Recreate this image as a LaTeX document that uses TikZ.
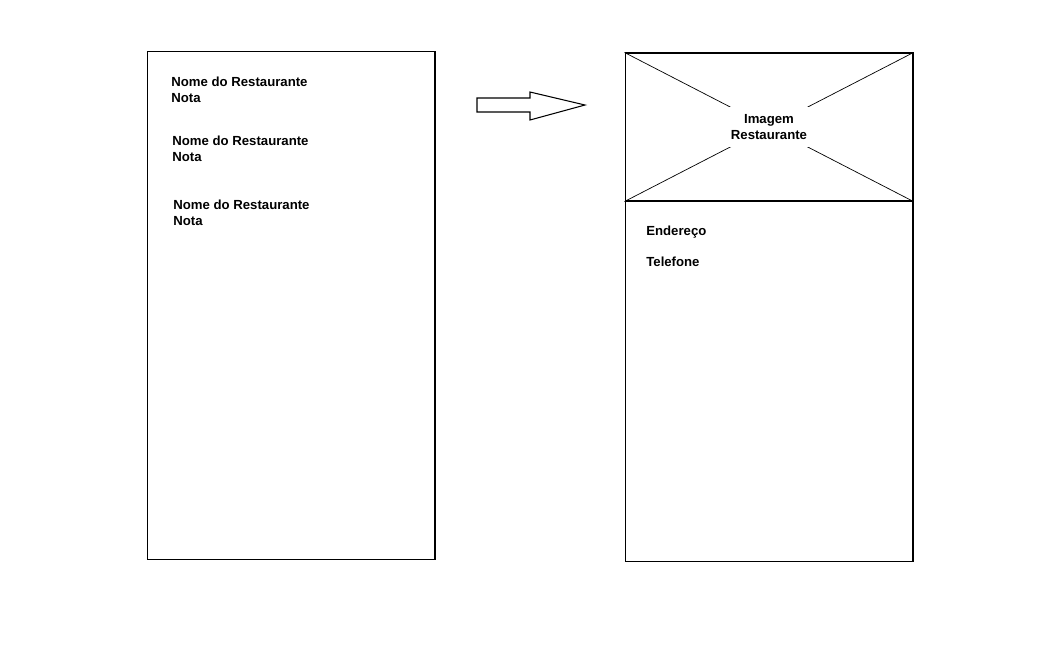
\documentclass[tikz,border=0pt]{standalone}
\usepackage{fontspec}
\setmainfont{Liberation Sans}
\usetikzlibrary{positioning}

\begin{document}
\begin{tikzpicture}[
    x=0.02cm, y=-0.02cm,
    screen/.style={draw, line width=0.6pt, minimum width=5.76cm, minimum height=10.18cm, inner sep=0pt},
    imgbox/.style={draw, line width=0.6pt, minimum width=5.76cm, minimum height=2.96cm, inner sep=0pt},
    txt/.style={font=\bfseries\fontsize{7.5}{9.1}\selectfont, align=left, inner sep=0pt, anchor=west},
    imgtxt/.style={font=\bfseries\fontsize{7.5}{9.1}\selectfont, align=center, fill=white, inner xsep=8pt, inner ysep=4pt}
]
\useasboundingbox (0,0) rectangle (1049,654);

% Lista de restaurantes
\node[screen] (lista) at (291,305.5) {};
\node[txt] (rest1) at (171,90) {Nome do Restaurante\\Nota};
\node[txt] (rest2) at (172,149) {Nome do Restaurante\\Nota};
\node[txt] (rest3) at (173,213) {Nome do Restaurante\\Nota};

% Seta
\draw[line width=0.6pt] (477,98) -- (530,98) -- (530,92) -- (585,105)
    -- (530,120) -- (530,112) -- (477,112) -- cycle;

% Detalhe do restaurante
\node[screen] (detalhe) at (769,307.5) {};
\node[imgbox] (imagem) at (769,127) {};
\draw[line width=0.4pt] (imagem.north west) -- (imagem.south east);
\draw[line width=0.4pt] (imagem.south west) -- (imagem.north east);
\node[imgtxt] (imglabel) at (imagem.center) {Imagem\\Restaurante};
\node[txt] (endereco) at (646,232) {Endereço};
\node[txt] (telefone) at (646,262) {Telefone};

\end{tikzpicture}
\end{document}
